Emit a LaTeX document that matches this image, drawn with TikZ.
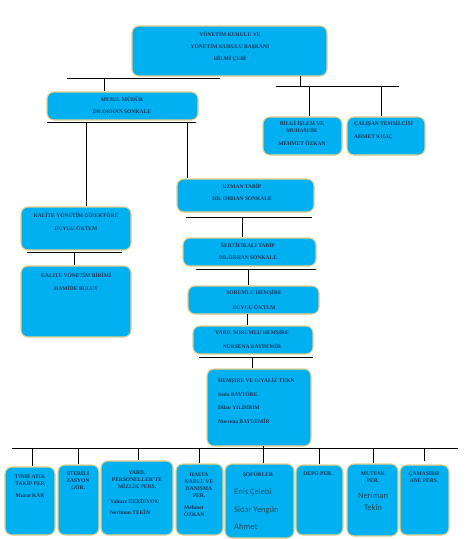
\documentclass[tikz,border=0pt]{standalone}
\usepackage{fontspec}
\setmainfont{Liberation Serif}
\newfontfamily\calib{Carlito}
\definecolor{boxfill}{HTML}{00B0F0}
\definecolor{boxedge}{HTML}{E3D08C}
\definecolor{navy}{HTML}{17365D}
\definecolor{teal2}{HTML}{1F4E60}
\newcommand\mkbox[5]{\node[box, minimum width={(#4-#2)*1pt}, minimum height={(#5-#3)*1pt}] (#1) at ({(#2+#4)/2},{(#3+#5)/2}) {};}
\begin{document}
\begin{tikzpicture}[x=1pt,y=-1pt,
  box/.style={draw=boxedge, fill=boxfill, line width=1.1pt, rounded corners=7pt, inner sep=0pt},
  lbl/.style={font=\fontsize{5.5}{7}\selectfont\bfseries, text=navy, inner sep=0pt},
  sans/.style={font=\calib\fontsize{8.5}{9}\selectfont, text=teal2, inner sep=0pt},
  conn/.style={line width=0.9pt, draw=black}]
\useasboundingbox (0,0) rectangle (467,539);
% boxes
\mkbox{top}{132}{26}{327}{76}
\mkbox{mesul}{47}{92}{198}{120}
\mkbox{bilgi}{263}{117}{342}{155}
\mkbox{calisan}{347}{117}{425}{155}
\mkbox{kdir}{21}{207}{131}{250}
\mkbox{kbirim}{21}{266}{131}{337}
\mkbox{uzman}{177}{179}{314}{212}
\mkbox{sert}{183}{238}{316}{266}
\mkbox{sorumlu}{188}{286}{319}{314}
\mkbox{yard}{193}{326}{313}{354}
\mkbox{hems}{207}{369}{311}{446}
\mkbox{b1}{5}{467}{55}{535}
\mkbox{b2}{58}{465}{99}{535}
\mkbox{b3}{101}{461}{173}{535}
\mkbox{b4}{176}{464}{223}{535}
\mkbox{b5}{225}{464}{294}{538}
\mkbox{b6}{296}{465}{343}{535}
\mkbox{b7}{347}{464}{398}{536}
\mkbox{b8}{400}{465}{449}{535}
% connectors
\coordinate (aL) at (67,78); \coordinate (aR) at (220,78); \coordinate (aM) at (104,78);
\draw[conn] (aL) -- (aR);
\draw[conn] (aM) -- (aM |- mesul.north);
\coordinate (bT) at (300,76); \coordinate (bM) at (300,86);
\coordinate (bL) at (276,86); \coordinate (bR) at (399,86);
\coordinate (b1x) at (309,86); \coordinate (b2x) at (381,86);
\draw[conn] (bT) -- (bM);
\draw[conn] (bL) -- (bR);
\draw[conn] (b1x) -- (b1x |- bilgi.north);
\draw[conn] (b2x) -- (b2x |- calisan.north);
\coordinate (cL) at (47,122); \coordinate (cR) at (196,122);
\coordinate (c1) at (86,122); \coordinate (c2) at (187,122);
\draw[conn] (cL) -- (cR);
\draw[conn] (c1) -- (c1 |- kdir.north);
\draw[conn] (c2) -- (c2 |- uzman.north);
\coordinate (dL) at (27,252); \coordinate (dR) at (122,252); \coordinate (dM) at (74,252);
\draw[conn] (dL) -- (dR);
\draw[conn] (dM) -- (dM |- kbirim.north);
\coordinate (eL) at (186,217); \coordinate (eR) at (312,217); \coordinate (eM) at (242,217);
\draw[conn] (eL) -- (eR);
\draw[conn] (eM) -- (eM |- sert.north);
\coordinate (fL) at (196,269); \coordinate (fR) at (316,269); \coordinate (fM) at (248,269);
\draw[conn] (fL) -- (fR);
\draw[conn] (fM) -- (fM |- sorumlu.north);
\coordinate (gM) at (247,314);
\draw[conn] (gM) -- (gM |- yard.north);
\coordinate (hL) at (199,357); \coordinate (hR) at (313,357); \coordinate (hM) at (252,357);
\draw[conn] (hL) -- (hR);
\draw[conn] (hM) -- (hM |- hems.north);
\coordinate (kL) at (12,448); \coordinate (kR) at (458,448);
\draw[conn] (kL) -- (kR);
\coordinate (k1) at (32,448); \coordinate (k2) at (78,448); \coordinate (k3) at (138,448);
\coordinate (k4) at (199,448); \coordinate (k5) at (263,446); \coordinate (k6) at (319,448);
\coordinate (k7) at (373,448); \coordinate (k8) at (424,448); \coordinate (k8e) at (424,461);
\draw[conn] (k1) -- (k1 |- b1.north);
\draw[conn] (k2) -- (k2 |- b2.north);
\draw[conn] (k3) -- (k3 |- b3.north);
\draw[conn] (k4) -- (k4 |- b4.north);
\draw[conn] (k5) -- (k5 |- b5.north);
\draw[conn] (k6) -- (k6 |- b6.north);
\draw[conn] (k7) -- (k7 |- b7.north);
\draw[conn] (k8) -- (k8e);
% labels
\node[lbl] (t1) at (230,34) {YÖNETİM KURULU VE};
\node[lbl] (t2) at (230,47) {YÖNETİM KURULU BAŞKANI};
\node[lbl] (t3) at (230,59) {HİLMİ ÇEBİ};
\node[lbl] (m1) at (122,99) {MESUL MÜDÜR};
\node[lbl] (m2) at (122,112) {DR.ORHAN SONKALE};
\node[lbl, align=center] (bi1) at (302,127) {BİLGİ İŞLEM VE\\MUHASEBE};
\node[lbl] (bi2) at (302,143) {MEHMET ÖZKAN};
\node[lbl, anchor=west] (ca1) at (354,124) {ÇALIŞAN TEMSİLCİSİ};
\node[lbl, anchor=west] (ca2) at (354,137) {AHMET KILIÇ};
\node[lbl] (kd1) at (76,215) {KALİTE YÖNETİM DİREKTÖRÜ};
\node[lbl] (kd2) at (76,228) {DUYGU ÖKTEM};
\node[lbl] (kb1) at (76,275) {KALİTE YÖNETİM BİRİMİ};
\node[lbl] (kb2) at (76,288) {HAMİDE BULUT};
\node[lbl] (u1) at (242,186) {UZMAN TABİP};
\node[lbl] (u2) at (242,199) {DR. ORHAN SONKALE};
\node[lbl] (s1) at (248,245) {SERTİFİKALI TABİP};
\node[lbl] (s2) at (248,258) {DR.ORHAN SONKALE};
\node[lbl] (r1) at (254,293) {SORUMLU HEMŞİRE};
\node[lbl] (r2) at (254,307) {DUYGU ÖKTEM};
\node[lbl] (y1) at (252,333) {YARD. SORUMLU HEMŞİRE};
\node[lbl] (y2) at (252,346) {NURSENA BAYDEMİR};
\node[lbl, anchor=west] (h1) at (218,381) {HEMŞİRE VE DİYALİZ TEKN};
\node[lbl, anchor=west] (h2) at (218,394) {Seda BAYTÖRE};
\node[lbl, anchor=west] (h3) at (218,408) {Dilan YILDIRIM};
\node[lbl, anchor=west] (h4) at (218,421) {Nursena BAYDEMİR};
\node[lbl, align=center] (p1a) at (30,479.5) {TIBBİ ATIK\\TAKİP PER};
\node[lbl] (p1b) at (30,496) {Murat KAR};
\node[lbl, align=center] (p2a) at (78,480.5) {STERİLİ\\ZASYON\\GÖR.};
\node[lbl, align=center] (p3a) at (137,479.5) {YARD.\\PERSONELLER'TE\\MİZLİK PERS.};
\node[lbl, anchor=west] (p3b) at (110,501) {Yahuze DERDİYOK};
\node[lbl, anchor=west] (p3c) at (110,512) {Neriman TEKİN};
\node[lbl, align=center] (p4a) at (199,485) {HASTA\\KABUL VE\\DANIŞMA\\PER.};
\node[lbl, align=left, anchor=west] (p4b) at (184,511.5) {Mehmet\\ÖZKAN};
\node[lbl] (p5a) at (258,475) {ŞOFÖRLER};
\node[sans, anchor=west] (p5b) at (234,492) {Enis Çelebi};
\node[sans, anchor=west] (p5c) at (234,510) {Sidar Yengün};
\node[sans, anchor=west] (p5d) at (234,527) {Ahmet};
\node[lbl] (p6a) at (318,474) {DEPO PER.};
\node[lbl, align=center] (p7a) at (373,477.5) {MUTFAK\\PER.};
\node[sans] (p7b) at (373,496) {Neriman};
\node[sans] (p7c) at (373,508) {Tekin};
\node[lbl, align=center] (p8a) at (424,477.5) {ÇAMAŞIRH\\ANE PERS.};
\end{tikzpicture}
\end{document}
